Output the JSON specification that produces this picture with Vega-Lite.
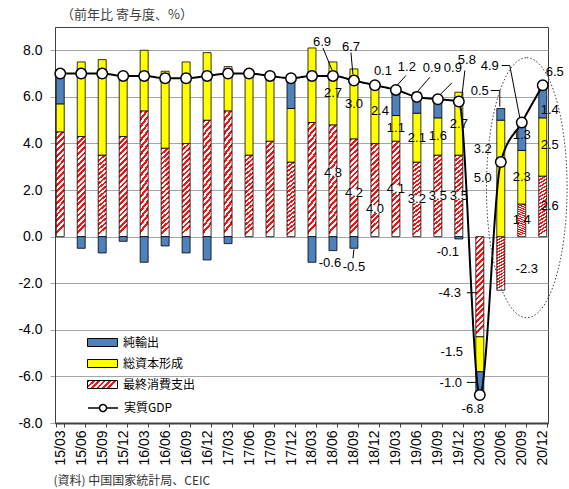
{
"$schema": "https://vega.github.io/schema/vega-lite/v6.json",
"width": 493, "height": 396,
"autosize": {"type": "none"},
"padding": {"left": 55, "top": 27, "right": 21, "bottom": 66},
"background": "#ffffff",
"title": {"text": "（前年比 寄与度、%）", "anchor": "start", "frame": "group", "orient": "top", "offset": 7, "dx": 6, "dy": 15, "font": "Noto Sans CJK JP", "fontSize": 13, "fontWeight": "normal", "color": "#404040", "baseline": "bottom"},
"config": {"view": {"stroke": "#404040", "strokeWidth": 1}, "font": "Liberation Sans"},
"datasets": {"d": [
 {"q":"15/03","最終消費支出":4.5,"総資本形成":1.2,"純輸出":1.4,"実質GDP":7.0},
 {"q":"15/06","最終消費支出":4.3,"総資本形成":3.2,"純輸出":-0.5,"実質GDP":7.0},
 {"q":"15/09","最終消費支出":3.5,"総資本形成":4.1,"純輸出":-0.7,"実質GDP":7.0},
 {"q":"15/12","最終消費支出":4.3,"総資本形成":2.6,"純輸出":-0.2,"実質GDP":6.9},
 {"q":"16/03","最終消費支出":5.4,"総資本形成":2.6,"純輸出":-1.1,"実質GDP":6.9},
 {"q":"16/06","最終消費支出":3.8,"総資本形成":3.3,"純輸出":-0.4,"実質GDP":6.8},
 {"q":"16/09","最終消費支出":4.0,"総資本形成":3.5,"純輸出":-0.7,"実質GDP":6.8},
 {"q":"16/12","最終消費支出":5.0,"総資本形成":2.9,"純輸出":-1.0,"実質GDP":6.9},
 {"q":"17/03","最終消費支出":5.4,"総資本形成":1.9,"純輸出":-0.3,"実質GDP":7.0},
 {"q":"17/06","最終消費支出":3.5,"総資本形成":3.5,"純輸出":0.0,"実質GDP":7.0},
 {"q":"17/09","最終消費支出":4.1,"総資本形成":2.7,"純輸出":0.1,"実質GDP":6.9},
 {"q":"17/12","最終消費支出":3.2,"総資本形成":2.3,"純輸出":1.2,"実質GDP":6.8},
 {"q":"18/03","最終消費支出":4.9,"総資本形成":3.2,"純輸出":-1.1,"実質GDP":6.9},
 {"q":"18/06","最終消費支出":4.8,"総資本形成":2.7,"純輸出":-0.6,"実質GDP":6.9},
 {"q":"18/09","最終消費支出":4.2,"総資本形成":3.0,"純輸出":-0.5,"実質GDP":6.7},
 {"q":"18/12","最終消費支出":4.0,"総資本形成":2.4,"純輸出":0.1,"実質GDP":6.5},
 {"q":"19/03","最終消費支出":4.1,"総資本形成":1.1,"純輸出":1.2,"実質GDP":6.3},
 {"q":"19/06","最終消費支出":3.2,"総資本形成":2.1,"純輸出":0.9,"実質GDP":6.0},
 {"q":"19/09","最終消費支出":3.5,"総資本形成":1.6,"純輸出":0.9,"実質GDP":5.9},
 {"q":"19/12","最終消費支出":3.5,"総資本形成":2.7,"純輸出":-0.1,"実質GDP":5.8},
 {"q":"20/03","最終消費支出":-4.3,"総資本形成":-1.5,"純輸出":-1.0,"実質GDP":-6.8},
 {"q":"20/06","最終消費支出":-2.3,"総資本形成":5.0,"純輸出":0.5,"実質GDP":3.2},
 {"q":"20/09","最終消費支出":1.4,"総資本形成":2.3,"純輸出":1.3,"実質GDP":4.9},
 {"q":"20/12","最終消費支出":2.6,"総資本形成":2.5,"純輸出":1.4,"実質GDP":6.5}
]},
"data": {"name": "d"},
"encoding": {
 "x": {"field": "q", "type": "nominal", "sort": null,
   "scale": {"type": "band", "paddingInner": 0.62, "paddingOuter": 0.06},
   "axis": {"title": "(資料) 中国国家統計局、CEIC", "titleFont": "Noto Sans CJK JP", "titleFontSize": 12, "titleFontWeight": "normal", "titleColor": "#333333", "titleX": -2, "titleY": 57, "titleAlign": "left", "titleAnchor": "start", "titleBaseline": "middle", "titleAngle": 0,
     "labelAngle": 270, "labelFontSize": 14, "labelColor": "#000000", "labelFont": "Liberation Sans", "labelPadding": 3, "tickBand": "extent", "tickSize": 4, "tickColor": "#404040", "domainColor": "#404040", "domainWidth": 2, "grid": false}}
},
"layer": [
 {
  "transform": [
    {"fold": ["最終消費支出", "総資本形成", "純輸出"], "as": ["comp", "v"]},
    {"calculate": "indexof(['最終消費支出','総資本形成','純輸出'], datum.comp)", "as": "o"},
    {"stack": "v", "groupby": ["q"], "sort": [{"field": "o", "order": "ascending"}], "as": ["v0", "v1"]}
  ],
  "mark": {"type": "bar", "stroke": "#000000", "strokeWidth": 0.8},
  "encoding": {
    "y": {"field": "v1", "type": "quantitative", "scale": {"domain": [-8, 9], "nice": false, "zero": false},
      "axis": {"title": null, "values": [-8, -6, -4, -2, 0, 2, 4, 6, 8], "labelExpr": "replace(format(datum.value, '.1f'), '\u2212', '-')", "labelFontSize": 14, "labelColor": "#000000", "labelFont": "Liberation Sans", "labelPadding": 8, "tickSize": 5, "tickColor": "#A6A6A6", "domainColor": "#404040", "gridColor": "#A6A6A6", "grid": true}},
    "y2": {"field": "v0"},
    "color": {"field": "comp", "type": "nominal",
      "condition": {"test": "datum.o === 0", "value": {"gradient": "linear", "x1": 0, "y1": 0, "x2": 0.08, "y2": 1, "stops": [
{"offset":0,"color":"#FF1010"},{"offset":0.0278,"color":"#FF1010"},{"offset":0.0278,"color":"#FFFFFF"},{"offset":0.0556,"color":"#FFFFFF"},
{"offset":0.0556,"color":"#FF1010"},{"offset":0.0833,"color":"#FF1010"},{"offset":0.0833,"color":"#FFFFFF"},{"offset":0.1111,"color":"#FFFFFF"},
{"offset":0.1111,"color":"#FF1010"},{"offset":0.1389,"color":"#FF1010"},{"offset":0.1389,"color":"#FFFFFF"},{"offset":0.1667,"color":"#FFFFFF"},
{"offset":0.1667,"color":"#FF1010"},{"offset":0.1944,"color":"#FF1010"},{"offset":0.1944,"color":"#FFFFFF"},{"offset":0.2222,"color":"#FFFFFF"},
{"offset":0.2222,"color":"#FF1010"},{"offset":0.25,"color":"#FF1010"},{"offset":0.25,"color":"#FFFFFF"},{"offset":0.2778,"color":"#FFFFFF"},
{"offset":0.2778,"color":"#FF1010"},{"offset":0.3056,"color":"#FF1010"},{"offset":0.3056,"color":"#FFFFFF"},{"offset":0.3333,"color":"#FFFFFF"},
{"offset":0.3333,"color":"#FF1010"},{"offset":0.3611,"color":"#FF1010"},{"offset":0.3611,"color":"#FFFFFF"},{"offset":0.3889,"color":"#FFFFFF"},
{"offset":0.3889,"color":"#FF1010"},{"offset":0.4167,"color":"#FF1010"},{"offset":0.4167,"color":"#FFFFFF"},{"offset":0.4444,"color":"#FFFFFF"},
{"offset":0.4444,"color":"#FF1010"},{"offset":0.4722,"color":"#FF1010"},{"offset":0.4722,"color":"#FFFFFF"},{"offset":0.5,"color":"#FFFFFF"},
{"offset":0.5,"color":"#FF1010"},{"offset":0.5278,"color":"#FF1010"},{"offset":0.5278,"color":"#FFFFFF"},{"offset":0.5556,"color":"#FFFFFF"},
{"offset":0.5556,"color":"#FF1010"},{"offset":0.5833,"color":"#FF1010"},{"offset":0.5833,"color":"#FFFFFF"},{"offset":0.6111,"color":"#FFFFFF"},
{"offset":0.6111,"color":"#FF1010"},{"offset":0.6389,"color":"#FF1010"},{"offset":0.6389,"color":"#FFFFFF"},{"offset":0.6667,"color":"#FFFFFF"},
{"offset":0.6667,"color":"#FF1010"},{"offset":0.6944,"color":"#FF1010"},{"offset":0.6944,"color":"#FFFFFF"},{"offset":0.7222,"color":"#FFFFFF"},
{"offset":0.7222,"color":"#FF1010"},{"offset":0.75,"color":"#FF1010"},{"offset":0.75,"color":"#FFFFFF"},{"offset":0.7778,"color":"#FFFFFF"},
{"offset":0.7778,"color":"#FF1010"},{"offset":0.8056,"color":"#FF1010"},{"offset":0.8056,"color":"#FFFFFF"},{"offset":0.8333,"color":"#FFFFFF"},
{"offset":0.8333,"color":"#FF1010"},{"offset":0.8611,"color":"#FF1010"},{"offset":0.8611,"color":"#FFFFFF"},{"offset":0.8889,"color":"#FFFFFF"},
{"offset":0.8889,"color":"#FF1010"},{"offset":0.9167,"color":"#FF1010"},{"offset":0.9167,"color":"#FFFFFF"},{"offset":0.9444,"color":"#FFFFFF"},
{"offset":0.9444,"color":"#FF1010"},{"offset":0.9722,"color":"#FF1010"},{"offset":0.9722,"color":"#FFFFFF"},{"offset":1,"color":"#FFFFFF"}
        ]}},
      "scale": {"domain": ["純輸出", "総資本形成", "最終消費支出"], "range": ["#4F81BD", "#FFFF00", {"expr": "{gradient: 'linear', x1: 0, y1: 0, x2: 1, y2: 0.27, stops: [{offset: 0, color: '#FF1010'}, {offset: 0.0833, color: '#FF1010'}, {offset: 0.0833, color: '#FFFFFF'}, {offset: 0.1667, color: '#FFFFFF'}, {offset: 0.1667, color: '#FF1010'}, {offset: 0.25, color: '#FF1010'}, {offset: 0.25, color: '#FFFFFF'}, {offset: 0.3333, color: '#FFFFFF'}, {offset: 0.3333, color: '#FF1010'}, {offset: 0.4167, color: '#FF1010'}, {offset: 0.4167, color: '#FFFFFF'}, {offset: 0.5, color: '#FFFFFF'}, {offset: 0.5, color: '#FF1010'}, {offset: 0.5833, color: '#FF1010'}, {offset: 0.5833, color: '#FFFFFF'}, {offset: 0.6667, color: '#FFFFFF'}, {offset: 0.6667, color: '#FF1010'}, {offset: 0.75, color: '#FF1010'}, {offset: 0.75, color: '#FFFFFF'}, {offset: 0.8333, color: '#FFFFFF'}, {offset: 0.8333, color: '#FF1010'}, {offset: 0.9167, color: '#FF1010'}, {offset: 0.9167, color: '#FFFFFF'}, {offset: 1, color: '#FFFFFF'}]}"}]},
      "legend": {"orient": "none", "legendX": 37, "legendY": 305, "title": null, "padding": 0,
        "symbolType": "M-1.5,-0.4H1.5V0.4H-1.5Z", "symbolSize": 400, "symbolStrokeColor": "#000000", "symbolStrokeWidth": 1,
        "labelFont": "Noto Sans CJK JP", "labelFontSize": 12, "labelColor": "#000000", "labelOffset": 10, "rowPadding": 4,
        "encode": {"symbols": {"update": {"stroke": {"value": "#000000"}, "strokeWidth": {"value": 1}, "opacity": {"value": 1}}}}}}
  }
 },
 {
  "mark": {"type": "line", "color": "#000000", "strokeWidth": 2, "interpolate": "monotone"},
  "encoding": {
    "y": {"field": "実質GDP", "type": "quantitative"},
    "strokeDash": {"datum": "実質GDP", "type": "nominal", "scale": {"range": [[1, 0]]},
      "legend": {"orient": "none", "legendX": 37, "legendY": 370, "title": null, "padding": 0,
        "symbolType": "M-1.5,0H-0.35M0.35,0H1.5M0.35,0A0.35,0.35 0 1,1 -0.35,0A0.35,0.35 0 1,1 0.35,0", "symbolSize": 400,
        "symbolStrokeColor": "#000000", "symbolStrokeWidth": 1.5, "symbolFillColor": "#FFFFFF",
        "labelFont": "Noto Sans CJK JP", "labelFontSize": 12, "labelColor": "#000000", "labelOffset": 10,
        "encode": {"symbols": {"update": {"fill": {"value": "#FFFFFF"}, "stroke": {"value": "#000000"}, "strokeWidth": {"value": 1.5}, "strokeDash": {"value": [1, 0]}, "opacity": {"value": 1}}}}}}
  }
 },
 {
  "mark": {"type": "point", "shape": "circle", "filled": true, "fill": "#FFFFFF", "stroke": "#000000", "strokeWidth": 1.5, "size": 110, "opacity": 1},
  "encoding": {"y": {"field": "実質GDP", "type": "quantitative"}}
 },
 {
  "transform": [
    {"fold": ["最終消費支出", "総資本形成", "純輸出"], "as": ["comp", "v"]},
    {"calculate": "indexof(['最終消費支出','総資本形成','純輸出'], datum.comp)", "as": "o"},
    {"stack": "v", "groupby": ["q"], "sort": [{"field": "o", "order": "ascending"}], "as": ["v0", "v1"]},
    {"filter": "indexof(['18/06','18/09','18/12','19/03','19/06','19/09','19/12','20/03','20/06','20/09','20/12'], datum.q) >= 0"},
    {"calculate": "datum.q + datum.o", "as": "key"},
    {"calculate": "datum.o === 2 && indexof(['18/06','18/09','18/12','19/03','19/06','19/09','19/12','20/06'], datum.q) >= 0 ? datum.v1 : (datum.v0 + datum.v1) / 2", "as": "ly"},
    {"calculate": "replace(format(datum.v, '.1f'), '\u2212', '-')", "as": "lab"}
  ],
  "encoding": {"y": {"field": "ly", "type": "quantitative"}},
  "layer": [
    {"transform": [{"filter": "(datum.o === 0 && indexof(['18/06','18/09','18/12','19/03','19/06','19/09','19/12'], datum.q) >= 0) || datum.key === '20/061'"}],
     "mark": {"type": "point", "shape": "M-1.2,-0.8H1.2V0.8H-1.2Z", "size": 100, "filled": true, "fill": "#FFFFFF", "opacity": 1, "strokeWidth": 0,
       "xOffset": {"expr": "({'18/062':-3,'18/122':8,'19/032':11,'19/062':15,'19/092':15,'19/122':-11,'20/062':-21,'20/030':-30,'20/031':-28,'20/032':-29,'20/061':-18,'20/060':26,'20/120':7,'20/121':7,'20/122':7,'18/121':5})[datum.key] || 0"},
       "yOffset": {"expr": "({'18/062':12,'18/092':19,'18/122':-14,'19/032':-21,'19/062':-24,'19/092':-29,'19/122':13,'20/062':-18,'20/030':6,'20/031':-2,'20/060':6,'20/122':8,'20/121':-2,'18/060':-8,'18/090':5,'18/120':19,'18/121':-5})[datum.key] || 0"}}},
    {"mark": {"type": "text", "fontSize": 13, "font": "Liberation Sans", "color": "#000000", "align": "center", "baseline": "middle",
       "dx": {"expr": "({'18/062':-3,'18/122':8,'19/032':11,'19/062':15,'19/092':15,'19/122':-11,'20/062':-21,'20/030':-30,'20/031':-28,'20/032':-29,'20/061':-18,'20/060':26,'20/120':7,'20/121':7,'20/122':7,'18/121':5})[datum.key] || 0"},
       "dy": {"expr": "({'18/062':12,'18/092':19,'18/122':-14,'19/032':-21,'19/062':-24,'19/092':-29,'19/122':13,'20/062':-18,'20/030':6,'20/031':-2,'20/060':6,'20/122':8,'20/121':-2,'18/060':-8,'18/090':5,'18/120':19,'18/121':-5})[datum.key] || 0"}},
     "encoding": {"text": {"field": "lab"}}},
    {"transform": [{"filter": "indexof(['19/032','19/062','19/092','18/092','20/030','20/032','20/062'], datum.key) >= 0"}],
     "mark": {"type": "rule", "color": "#000000", "strokeWidth": 1,
       "xOffset": {"expr": "({'19/032':10,'19/062':13,'19/092':14,'18/092':0,'20/030':-13,'20/032':-13,'20/062':-10})[datum.key]"},
       "yOffset": {"expr": "({'19/032':-12,'19/062':-15,'19/092':-14,'18/092':1,'20/030':6,'20/032':-1,'20/062':-18})[datum.key]"},
       "x2Offset": {"expr": "({'19/032':1,'19/062':0,'19/092':2,'18/092':-1,'20/030':-3,'20/032':-3,'20/062':-1})[datum.key]"},
       "y2Offset": {"expr": "({'19/032':-2,'19/062':0,'19/092':-2,'18/092':10,'20/030':6,'20/032':-1,'20/062':-18})[datum.key]"}},
     "encoding": {"x2": {"field": "q", "bandPosition": 0.5}, "y2": {"field": "ly"}}},
    {"transform": [{"filter": "datum.key === '20/062'"}],
     "mark": {"type": "rule", "color": "#000000", "strokeWidth": 1, "xOffset": -1, "yOffset": -18, "x2Offset": -1, "y2Offset": -2},
     "encoding": {"x2": {"field": "q", "bandPosition": 0.5}, "y2": {"field": "ly"}}}
  ]
 },
 {
  "transform": [
    {"filter": "indexof(['18/06','18/09','19/12','20/03','20/06','20/09','20/12'], datum.q) >= 0"},
    {"calculate": "replace(format(datum['実質GDP'], '.1f'), '\u2212', '-')", "as": "glab"}
  ],
  "encoding": {"y": {"field": "実質GDP", "type": "quantitative"}},
  "layer": [
    {"mark": {"type": "text", "fontSize": 13, "font": "Liberation Sans", "color": "#000000", "align": "center", "baseline": "middle",
       "dx": {"expr": "({'18/06':-11,'18/09':-3,'19/12':8,'20/03':-7,'20/06':-18,'20/09':-32,'20/12':12})[datum.q]"},
       "dy": {"expr": "({'18/06':-34,'18/09':-34,'19/12':-42,'20/03':14,'20/06':-13,'20/09':-57,'20/12':-13})[datum.q]"}},
     "encoding": {"text": {"field": "glab"}}},
    {"transform": [{"filter": "indexof(['18/06','18/09','19/12','20/09'], datum.q) >= 0"}],
     "mark": {"type": "rule", "color": "#000000", "strokeWidth": 1,
       "xOffset": {"expr": "({'18/06':-10,'18/09':-3,'19/12':6,'20/09':-20})[datum.q]"},
       "yOffset": {"expr": "({'18/06':-28,'18/09':-28,'19/12':-31,'20/09':-57})[datum.q]"},
       "x2Offset": {"expr": "({'18/06':-1,'18/09':-1,'19/12':3,'20/09':-12})[datum.q]"},
       "y2Offset": {"expr": "({'18/06':-6,'18/09':-6,'19/12':-5,'20/09':-57})[datum.q]"}},
     "encoding": {"x2": {"field": "q", "bandPosition": 0.5}, "y2": {"field": "実質GDP"}}},
    {"transform": [{"filter": "datum.q === '20/09'"}],
     "mark": {"type": "rule", "color": "#000000", "strokeWidth": 1, "xOffset": -12, "yOffset": -57, "x2Offset": -2, "y2Offset": -5},
     "encoding": {"x2": {"field": "q", "bandPosition": 0.5}, "y2": {"field": "実質GDP"}}}
  ]
 },
 {
  "data": {"values": [{}]},
  "mark": {"type": "point", "shape": "M0,-1A0.31,1 0 1,1 0,1A0.31,1 0 1,1 0,-1Z", "size": 67600, "filled": false, "stroke": "#404040", "strokeWidth": 1, "strokeDash": [1.5, 2], "opacity": 1, "xOffset": 5},
  "encoding": {
    "x": {"datum": "20/09", "type": "nominal"},
    "y": {"datum": 2.1, "type": "quantitative"}
  }
 }
]
}
